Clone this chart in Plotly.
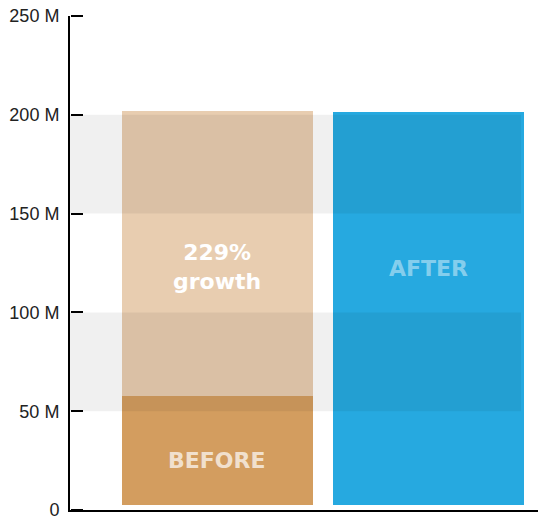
import plotly.graph_objects as go

# ---- data ----
categories = ["BEFORE", "AFTER"]
bar_base = 2.4e6
before_value = 57.9e6
before_ghost_value = 201.7e6
after_value = 201.2e6
band_ranges = [(50e6, 100e6), (150e6, 200e6)]
tick_vals = [0, 50e6, 100e6, 150e6, 200e6, 250e6]
tick_text = ["0", "50 M", "100 M", "150 M", "200 M", "250 M"]
growth_label = "229%<br>growth"
y_range = [0, 250e6]

fig = go.Figure()

bar_w = 0.905
# ghost (target height) behind the BEFORE bar
fig.add_trace(go.Bar(x=[categories[0]], y=[before_ghost_value - bar_base], base=[bar_base],
                     width=bar_w, marker=dict(color="#e8cdb0", line=dict(width=0)),
                     hoverinfo="skip"))
fig.add_trace(go.Bar(x=[categories[0]], y=[before_value - bar_base], base=[bar_base],
                     width=bar_w, marker=dict(color="#d39d5f", line=dict(width=0)),
                     hoverinfo="skip"))
fig.add_trace(go.Bar(x=[categories[1]], y=[after_value - bar_base], base=[bar_base],
                     width=bar_w, marker=dict(color="#26a9e0", line=dict(width=0)),
                     hoverinfo="skip"))
# invisible helper trace so the tick-only axis renders
fig.add_trace(go.Scatter(x=[categories[0]], y=[y_range[0]], yaxis="y2", mode="markers",
                         marker=dict(opacity=0), hoverinfo="skip"))

for y0, y1 in band_ranges:
    fig.add_shape(type="rect", xref="paper", yref="y", x0=0, x1=0.9637, y0=y0, y1=y1,
                  fillcolor="rgba(0,0,0,0.06)", line=dict(width=0), layer="above")

label_font = dict(family="DejaVu Sans", size=22, color="white")
fig.add_annotation(x=categories[0], y=123.2e6, text="<b>" + growth_label + "</b>",
                   showarrow=False, font=label_font, align="center")
fig.add_annotation(x=categories[1], y=122.1e6, text="<b>AFTER</b>", showarrow=False,
                   font=dict(family="DejaVu Sans", size=22, color="rgba(255,255,255,0.45)"))
fig.add_annotation(x=categories[0], y=25.3e6, text="<b>BEFORE</b>", showarrow=False,
                   font=dict(family="DejaVu Sans", size=22, color="rgba(255,255,255,0.7)"))

fig.update_layout(
    width=538, height=520,
    margin=dict(l=70, r=0, t=16, b=10),
    paper_bgcolor="white", plot_bgcolor="white",
    barmode="overlay", showlegend=False, bargap=0,
    xaxis=dict(type="category", categoryorder="array", categoryarray=categories,
               range=[-0.699, 1.519], showticklabels=False, ticks="",
               showgrid=False, zeroline=False, showline=True,
               linecolor="black", linewidth=2),
    yaxis=dict(range=y_range, tickvals=tick_vals, ticktext=tick_text,
               ticks="", showgrid=False, zeroline=False, showline=True,
               linecolor="black", linewidth=2, ticklabelstandoff=5,
               ticklabeloverflow="allow",
               tickfont=dict(family="Liberation Sans", size=18, color="#222")),
    yaxis2=dict(range=y_range, tickvals=tick_vals, overlaying="y", side="right",
                anchor="free", position=0, showticklabels=False,
                ticks="outside", ticklen=12, tickwidth=2, tickcolor="black",
                showgrid=False, zeroline=False, showline=False),
)

fig.write_html("out.html")
